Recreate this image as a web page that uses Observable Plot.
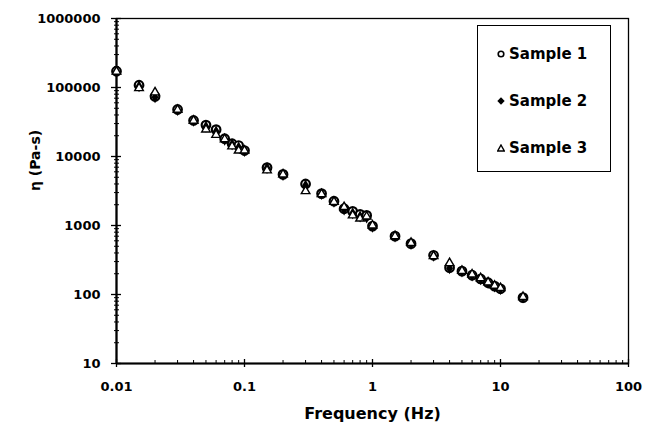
<!DOCTYPE html>
<html>
<head>
<meta charset="utf-8">
<script src="https://cdn.jsdelivr.net/npm/d3@7"></script>
<script src="https://cdn.jsdelivr.net/npm/@observablehq/plot@0.6"></script>
<style>
  html, body { margin: 0; padding: 0; background: #fff; }
  #wrap { position: relative; width: 655px; height: 434px; font-family: "DejaVu Sans", sans-serif; font-weight: bold; }
  #legend { position: absolute; left: 477px; top: 25px; width: 134px; height: 147px; box-sizing: border-box; border: 1.5px solid #000; background: #fff; }
  .entry { position: absolute; left: 0; height: 20px; display: flex; align-items: center; font-size: 15px; color: #000; }
  .entry svg { margin-left: 19px; margin-right: 4px; }
</style>
</head>
<body>
<div id="wrap"></div>
<script>
const frequency = [0.01,0.015,0.02,0.03,0.04,0.05,0.06,0.07,0.08,0.09,0.1,0.15,0.2,0.3,0.4,0.5,0.6,0.7,0.8,0.9,1,1.5,2,3,4,5,6,7,8,9,10,15];
const sample1 = [172000,108000,74000,48000,33300,28500,24500,18100,15300,14400,12200,6900,5500,4000,2900,2250,1750,1600,1450,1400,980,700,545,370,245,218,190,168,148,132,121,90];
const sample2 = [170000,104000,72000,47000,33000,27000,23000,17500,15000,13500,12000,6800,5400,3800,2850,2200,1700,1500,1350,1300,960,690,540,365,240,215,188,166,146,130,120,90];
const sample3 = [170000,98000,85000,47500,33000,24600,20600,17800,14000,12200,12200,6300,5500,3150,2850,2200,1850,1400,1260,1350,1000,700,560,360,285,220,195,172,150,134,124,92];
const seriesNames = ["Sample 1", "Sample 2", "Sample 3"];
const xMajor = [0.01, 0.1, 1, 10, 100];
const yMajor = [10, 100, 1000, 10000, 100000, 1000000];
const xMinor = [2,3,4,5,6,7,8,9].flatMap(m => [0.01, 0.1, 1, 10].map(p => m * p));
const yMinor = [2,3,4,5,6,7,8,9].flatMap(m => [10, 100, 1000, 10000, 100000].map(p => m * p));
const xTitle = "Frequency (Hz)";
const yTitle = "η (Pa-s)";

const rows = (ys) => frequency.map((f, i) => ({f, v: ys[i]}));
const W = 655, H = 434, mL = 116, mR = 27, mT = 18, mB = 71;
const pw = W - mL - mR, ph = H - mT - mB;

const chart = Plot.plot({
  width: W, height: H,
  marginLeft: mL, marginRight: mR, marginTop: mT, marginBottom: mB,
  style: {fontFamily: "DejaVu Sans, sans-serif", fontWeight: "bold", fontSize: "13px", color: "#000", background: "#fff"},
  x: {type: "log", domain: [0.01, 100]},
  y: {type: "log", domain: [10, 1000000]},
  marks: [
    Plot.frame({stroke: "#000", strokeWidth: 1.3}),
    Plot.axisX({ticks: xMajor, tickSize: 4, tickPadding: 14, tickFormat: d => String(d), label: null, fontSize: 13, fontWeight: "bold", strokeWidth: 1.3}),
    Plot.axisY({ticks: yMajor, tickSize: 5, tickPadding: 11, tickFormat: d => String(d), label: null, fontSize: 13, fontWeight: "bold", strokeWidth: 1.3}),
    Plot.axisY({ticks: yMinor, tickSize: 2, tickFormat: () => "", label: null, strokeWidth: 1}),
    Plot.tickX(xMajor, {x: d => d, insetTop: ph - 4, stroke: "#000", strokeWidth: 1.3}),
    Plot.tickX(xMinor, {x: d => d, insetTop: ph - 3, stroke: "#000", strokeWidth: 1}),
    Plot.tickY(yMajor, {y: d => d, insetRight: pw - 5, stroke: "#000", strokeWidth: 1.3}),
    Plot.tickY(yMinor, {y: d => d, insetRight: pw - 3, stroke: "#000", strokeWidth: 1}),
    Plot.ruleX([0.01], {stroke: "#000", strokeWidth: 2.2}),
    Plot.ruleY([10], {stroke: "#000", strokeWidth: 2.2}),
    Plot.dot(rows(sample1), {x: "f", y: "v", symbol: "circle", r: 4.3, stroke: "#000", strokeWidth: 2.2, fill: "#fff"}),
    Plot.dot(rows(sample2), {x: "f", y: "v", symbol: "diamond", r: 3.6, fill: "#000", stroke: "none"}),
    Plot.dot(rows(sample3), {x: "f", y: "v", symbol: "triangle", r: 3.2, stroke: "#000", strokeWidth: 1.4, fill: "#fff"}),
    Plot.text([xTitle], {text: d => d, frameAnchor: "bottom", dy: 55, fontSize: 16, fontWeight: "bold", fill: "#000"}),
    Plot.text([yTitle], {text: d => d, frameAnchor: "left", dx: -81, rotate: -90, fontSize: 14, fontWeight: "bold", fill: "#000"})
  ]
});

const wrap = document.getElementById("wrap");
wrap.appendChild(chart);

const legend = document.createElement("div");
legend.id = "legend";
const symbols = [
  '<svg width="8" height="8"><circle cx="4" cy="4" r="2.8" fill="#fff" stroke="#000" stroke-width="1.6"/></svg>',
  '<svg width="8" height="8"><path d="M4,0.3L7.7,4L4,7.7L0.3,4Z" fill="#000"/></svg>',
  '<svg width="8" height="8"><path d="M4,1L7.3,7L0.7,7Z" fill="#fff" stroke="#000" stroke-width="1.4"/></svg>'
];
const tops = [18, 65, 112];
seriesNames.forEach((name, i) => {
  const e = document.createElement("div");
  e.className = "entry";
  e.style.top = tops[i] + "px";
  e.innerHTML = symbols[i] + "<span>" + name + "</span>";
  legend.appendChild(e);
});
wrap.appendChild(legend);
</script>
</body>
</html>
